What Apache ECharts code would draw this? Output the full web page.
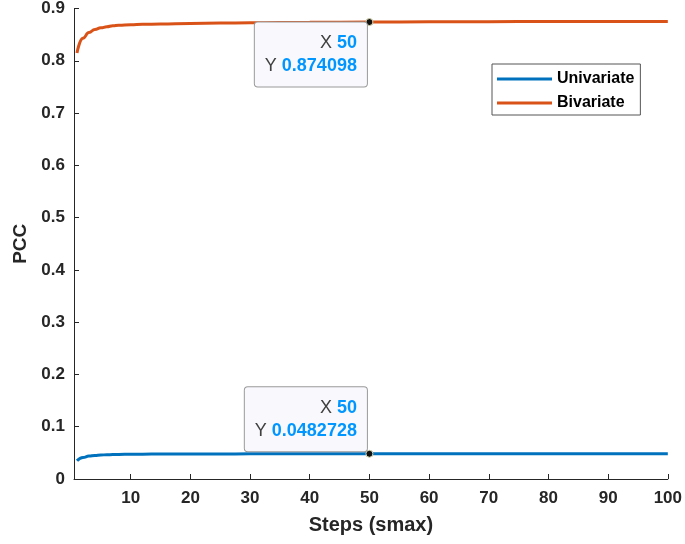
<!DOCTYPE html>
<html>
<head>
<meta charset="utf-8">
<script src="https://cdn.jsdelivr.net/npm/echarts@6/dist/echarts.min.js"></script>
<style>
  html, body { margin: 0; padding: 0; background: #fff; }
  #chart { width: 685px; height: 544px; }
</style>
</head>
<body>
<div id="chart"></div>
<script>
// Steps (smax) at which the PCC was evaluated
const steps = [1, 2, 3, 4, 5, 6, 7, 8, 10, 12, 15, 20, 25, 30, 40, 50, 60, 70, 80, 90, 100];
const univariate = [0.0350, 0.0413, 0.0438, 0.0451, 0.0459, 0.0464, 0.0467, 0.0470, 0.0473, 0.0475, 0.0477, 0.0479, 0.0480, 0.0481, 0.0482, 0.0482728, 0.0483, 0.0483, 0.0484, 0.0484, 0.0484];
const bivariate  = [0.815, 0.843, 0.854, 0.860, 0.863, 0.865, 0.867, 0.868, 0.869, 0.8697, 0.8705, 0.8715, 0.8721, 0.8727, 0.8736, 0.874098, 0.8745, 0.8748, 0.8750, 0.8752, 0.8753];
const xTicks = [10, 20, 30, 40, 50, 60, 70, 80, 90, 100];

// Data tips shown on each curve
const tipStep = 50;
const tipUni = 0.0482728;
const tipBi = 0.874098;

const FONT = '"Liberation Sans", Arial, Helvetica, sans-serif';
const AXIS = '#262626';

const zip = (xs, ys) => xs.map((x, i) => [x, ys[i]]);

function dataTip(x, y, pos, vAlign) {
  return {
    symbol: 'circle',
    symbolSize: 7,
    itemStyle: { color: '#111', borderColor: '#d8d8b0', borderWidth: 1 },
    data: [{
      coord: [x, y],
      label: {
        show: true,
        position: pos,
        align: 'right',
        verticalAlign: vAlign,
        backgroundColor: '#f8f8fd',
        borderColor: '#9a9a9a',
        borderWidth: 1,
        borderRadius: 3,
        padding: [9, 10, 9, 10],
        formatter: '{k|X }{v|' + x + '}\n{k|Y }{v|' + y + '}',
        rich: {
          k: { fontFamily: FONT, fontSize: 18, color: '#404040', align: 'right', lineHeight: 23 },
          v: { fontFamily: FONT, fontSize: 18, fontWeight: 'bold', color: '#0096ff', align: 'right', lineHeight: 23 }
        }
      }
    }]
  };
}

const chart = echarts.init(document.getElementById('chart'));
chart.setOption({
  animation: false,
  backgroundColor: '#fff',
  grid: { left: 74, right: 16, top: 8, bottom: 65, containLabel: false },
  legend: {
    orient: 'vertical',
    left: 492,
    top: 64,
    icon: 'rect',
    itemWidth: 55,
    itemHeight: 3,
    itemGap: 8,
    padding: [7, 6, 4, 5],
    backgroundColor: '#fff',
    borderColor: '#555',
    borderWidth: 1,
    borderRadius: 0,
    textStyle: { fontFamily: FONT, fontSize: 16, lineHeight: 16, fontWeight: 'bold', color: '#000' },
    data: ['Univariate', 'Bivariate']
  },
  xAxis: {
    type: 'value',
    min: 0.5,
    max: 100,
    name: 'Steps (smax)',
    nameLocation: 'middle',
    nameGap: 36,
    nameTextStyle: { fontFamily: FONT, fontSize: 20, fontWeight: 'bold', color: AXIS },
    axisLine: { show: true, onZero: false, lineStyle: { color: AXIS, width: 1 } },
    axisTick: { show: true, inside: true, length: 5, customValues: xTicks, lineStyle: { color: AXIS } },
    axisLabel: { customValues: xTicks, margin: 11, fontFamily: FONT, fontSize: 17, fontWeight: 'bold', color: AXIS },
    splitLine: { show: false }
  },
  yAxis: {
    type: 'value',
    min: 0,
    max: 0.9,
    interval: 0.1,
    name: 'PCC',
    nameLocation: 'middle',
    nameGap: 44,
    nameTextStyle: { fontFamily: FONT, fontSize: 19, fontWeight: 'bold', color: AXIS },
    axisLine: { show: true, lineStyle: { color: AXIS, width: 1 } },
    axisTick: { show: true, inside: true, length: 5, lineStyle: { color: AXIS } },
    axisLabel: { margin: 9, fontFamily: FONT, fontSize: 17, fontWeight: 'bold', color: AXIS },
    splitLine: { show: false }
  },
  series: [
    {
      name: 'Univariate',
      type: 'line',
      data: zip(steps, univariate),
      showSymbol: false,
      symbol: 'none',
      smooth: 0.5,
      smoothMonotone: 'x',
      color: '#0072BD',
      lineStyle: { width: 3, color: '#0072BD' },
      markPoint: dataTip(tipStep, tipUni, [1.5, 1.5], 'bottom'),
      z: 2
    },
    {
      name: 'Bivariate',
      type: 'line',
      data: zip(steps, bivariate),
      showSymbol: false,
      symbol: 'none',
      smooth: 0.5,
      smoothMonotone: 'x',
      color: '#D95319',
      lineStyle: { width: 3, color: '#D95319' },
      markPoint: dataTip(tipStep, tipBi, [1.5, 4.5], 'top'),
      z: 2
    }
  ]
});
</script>
</body>
</html>
